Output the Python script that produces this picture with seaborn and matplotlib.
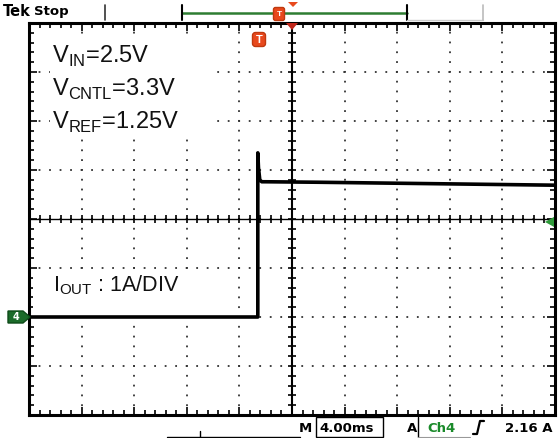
import numpy as np
import seaborn as sns
import matplotlib.pyplot as plt
from matplotlib.patches import Rectangle, Polygon, FancyBboxPatch

# scope capture data: time in ms (4 ms/div), current in A (1 A/div)
time_ms = [-20.0, -2.6, -2.6, -2.55, -2.45, -2.3, -2.0, 2.0, 8.0, 14.0, 20.0]
current_a = [0.0, 0.0, 3.35, 3.05, 2.80, 2.76, 2.76, 2.75, 2.73, 2.71, 2.69]
trigger_level = 1.94
x_divs = np.arange(-20, 21, 4)
y_divs = np.arange(-2, 7, 1)

W, H = 558, 438
sns.set_theme(style="white")
plt.rcParams["font.family"] = ["Liberation Sans", "DejaVu Sans"]
plt.rcParams["mathtext.fontset"] = "custom"
plt.rcParams["mathtext.rm"] = "Liberation Sans"

fig = plt.figure(figsize=(W / 100, H / 100), dpi=100)
fig.patch.set_facecolor("white")
L, R, T, B = 29, 555, 23, 415
ax = fig.add_axes([L / W, 1 - B / H, (R - L) / W, (B - T) / H])
ax.set_xlim(-20, 20)
ax.set_ylim(-2, 6)

# graticule
ax.set_xticks(x_divs)
ax.set_yticks(y_divs)
ax.set_xticks(np.arange(-20, 20.01, 0.8), minor=True)
ax.set_yticks(np.arange(-2, 6.01, 0.2), minor=True)
ax.set_xticklabels([])
ax.set_yticklabels([])
ax.xaxis.grid(True, which="major", color="#333333", lw=1.3, linestyle=(0.5, (1, 4.43)))
ax.yaxis.grid(True, which="major", color="#333333", lw=1.3, linestyle=(0.5, (1, 4.82)))
ax.tick_params(which="both", direction="in", top=True, right=True, bottom=True, left=True,
               color="black", width=1.2)
ax.tick_params(which="major", length=6)
ax.tick_params(which="minor", length=3.5)
for s in ax.spines.values():
    s.set_color("black")
    s.set_linewidth(2.2)

ax.axhline(2, color="black", lw=1.0, zorder=1)
ax.axvline(0, color="black", lw=1.5, zorder=1)
mx = np.arange(-20, 20.01, 0.8)
my = np.arange(-2, 6.01, 0.2)
ax.plot(mx, np.full_like(mx, 2.0), ls="none", marker="|", ms=6, mew=1.2, color="black", zorder=1)
ax.plot(np.zeros_like(my), my, ls="none", marker="_", ms=6, mew=1.2, color="black", zorder=1)

sns.lineplot(x=time_ms, y=current_a, ax=ax, sort=False, estimator=None,
             color="black", lw=2.6, zorder=3)

# overlay in pixel coordinates for scope decorations
ov = fig.add_axes([0, 0, 1, 1], facecolor="none")
ov.set_xlim(0, W)
ov.set_ylim(H, 0)
ov.axis("off")

ov.add_patch(Rectangle((50, 36), 165, 100, facecolor="white", edgecolor="none", zorder=1))
ov.add_patch(Rectangle((33, 270), 195, 42, facecolor="white", edgecolor="none", zorder=1))
fs = 17
ov.text(52, 63, r"V$_{\mathrm{IN}}$=2.5V", fontsize=fs, ha="left", va="baseline", color="#111111", zorder=2)
ov.text(52, 96, r"V$_{\mathrm{CNTL}}$=3.3V", fontsize=fs, ha="left", va="baseline", color="#111111", zorder=2)
ov.text(52, 129, r"V$_{\mathrm{REF}}$=1.25V", fontsize=fs, ha="left", va="baseline", color="#111111", zorder=2)
ov.text(53, 291, r"I$_{\mathrm{OUT}}$ : 1A/DIV", fontsize=15.5, ha="left", va="baseline", color="#111111", zorder=2)

# header
ov.text(3, 12, "Tek", fontsize=10.5, fontweight="bold", family="DejaVu Sans", ha="left", va="center", color="black")
ov.text(34, 11, "Stop", fontsize=9.5, fontweight="bold", family="DejaVu Sans", ha="left", va="center", color="black")
ov.plot([105, 105], [5, 20], color="#333333", lw=1.2)
ov.plot([182, 407], [13, 13], color="#2e7d32", lw=1.8)
ov.plot([182, 182], [5, 20], color="black", lw=1.5)
ov.plot([407, 407], [5, 20], color="black", lw=1.5)
ov.plot([407, 483], [20, 20], color="#cccccc", lw=1)
ov.plot([483, 483], [5, 20], color="#bbbbbb", lw=1.2)
ov.add_patch(FancyBboxPatch((274, 8), 10, 12, boxstyle="round,pad=0.5,rounding_size=2",
                            facecolor="#e8491d", edgecolor="#c0390f", zorder=3))
ov.text(279, 14.5, "T", fontsize=6, fontweight="bold", color="white", ha="center", va="center", zorder=4)
ov.add_patch(Polygon([[288, 2], [298, 2], [293, 7]], closed=True, facecolor="#e8491d", edgecolor="none"))
ov.add_patch(Polygon([[286, 23], [298, 23], [292, 30]], closed=True, facecolor="#c0261a", edgecolor="none", zorder=3))
ov.add_patch(FancyBboxPatch((253, 33), 12, 13, boxstyle="round,pad=0.5,rounding_size=3",
                            facecolor="#e8491d", edgecolor="#c0390f", zorder=3))
ov.text(259, 40, "T", fontsize=8, fontweight="bold", color="white", ha="center", va="center", zorder=4)

# channel ground marker and trigger level marker
ov.add_patch(Polygon([[8, 311], [23, 311], [30, 317], [23, 323], [8, 323]], closed=True,
                     facecolor="#1b6b2a", edgecolor="#0d4a18", zorder=3))
ov.text(16, 317, "4", fontsize=7, fontweight="bold", color="white", ha="center", va="center",
        family="DejaVu Sans", zorder=4)
yt = ax.transData.transform((0, trigger_level))[1]
ov.add_patch(Polygon([[545, H - yt], [554, H - yt - 5], [554, H - yt + 5]], closed=True,
                     facecolor="#2e9b3a", edgecolor="none", zorder=3))

# status line
sb = 428
ov.text(299, sb, "M", fontsize=9.5, fontweight="bold", family="DejaVu Sans", ha="left", va="center", color="black")
ov.add_patch(Rectangle((316, 417), 67, 20, facecolor="none", edgecolor="black", lw=1))
ov.text(319, sb, "4.00ms", fontsize=9.5, fontweight="bold", family="DejaVu Sans", ha="left", va="center", color="black")
ov.text(407, sb, "A", fontsize=9.5, fontweight="bold", family="DejaVu Sans", ha="left", va="center", color="black")
ov.plot([418, 418], [417, 437], color="black", lw=1)
ov.plot([418, 470], [437, 437], color="#999999", lw=0.8)
ov.text(427, sb, "Ch4", fontsize=9.5, fontweight="bold", family="DejaVu Sans", ha="left", va="center", color="#1a8a2a")
ov.plot([473, 477, 480, 484], [434, 434, 421, 421], color="black", lw=1.6)
ov.text(505, sb, "2.16 A", fontsize=9.5, fontweight="bold", family="DejaVu Sans", ha="left", va="center", color="black")
ov.plot([167, 300], [437, 437], color="black", lw=1)
ov.plot([200, 200], [431, 438], color="black", lw=1)

fig.savefig("out.png", dpi=100)
